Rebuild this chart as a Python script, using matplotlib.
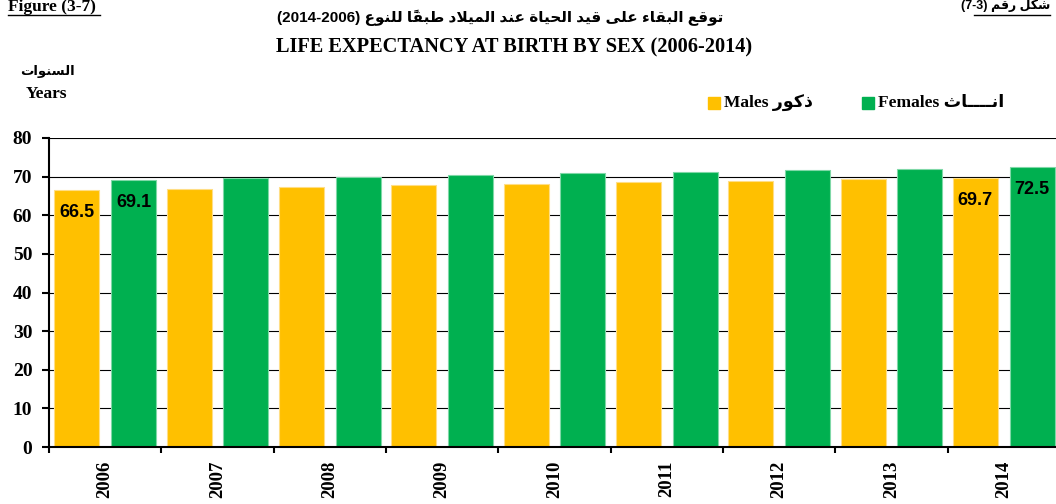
import numpy as np
import matplotlib
matplotlib.use('Agg')
import matplotlib.pyplot as plt
from matplotlib.patches import Rectangle
from matplotlib.lines import Line2D

years = ['2006', '2007', '2008', '2009', '2010', '2011', '2012', '2013', '2014']
males = [66.5, 66.9, 67.4, 67.9, 68.2, 68.6, 68.9, 69.4, 69.7]
females = [69.1, 69.6, 70.0, 70.5, 70.9, 71.3, 71.7, 72.0, 72.5]
labelled = ['2006', '2014']   # only these years carry value labels

title_ar = 'توقع البقاء على قيد الحياة عند الميلاد طبقاً للنوع'
title_ar_years = '(2014-2006)'
title_en = 'LIFE EXPECTANCY AT BIRTH BY SEX (2006-2014)'
fig_en = 'Figure (3-7)'
fig_ar = 'شكل رقم'
fig_ar_num = '(7-3)'
unit_ar = 'السنوات'
unit_en = 'Years'
males_name = ['Males', 'ذكور']
females_name = ['Females', 'انــــاث']

yellow = '#FFC000'
green = '#00B050'

# arabic letters: isolated, final, initial, medial (None = no join to the next letter)
FORMS = {
    'ا': (0xFE8D, 0xFE8E, None, None),
    'ب': (0xFE8F, 0xFE90, 0xFE91, 0xFE92),
    'ة': (0xFE93, 0xFE94, None, None),
    'ت': (0xFE95, 0xFE96, 0xFE97, 0xFE98),
    'ث': (0xFE99, 0xFE9A, 0xFE9B, 0xFE9C),
    'ح': (0xFEA1, 0xFEA2, 0xFEA3, 0xFEA4),
    'د': (0xFEA9, 0xFEAA, None, None),
    'ذ': (0xFEAB, 0xFEAC, None, None),
    'ر': (0xFEAD, 0xFEAE, None, None),
    'س': (0xFEB1, 0xFEB2, 0xFEB3, 0xFEB4),
    'ش': (0xFEB5, 0xFEB6, 0xFEB7, 0xFEB8),
    'ط': (0xFEC1, 0xFEC2, 0xFEC3, 0xFEC4),
    'ع': (0xFEC9, 0xFECA, 0xFECB, 0xFECC),
    'ق': (0xFED5, 0xFED6, 0xFED7, 0xFED8),
    'ك': (0xFED9, 0xFEDA, 0xFEDB, 0xFEDC),
    'ل': (0xFEDD, 0xFEDE, 0xFEDF, 0xFEE0),
    'م': (0xFEE1, 0xFEE2, 0xFEE3, 0xFEE4),
    'ن': (0xFEE5, 0xFEE6, 0xFEE7, 0xFEE8),
    'و': (0xFEED, 0xFEEE, None, None),
    'ى': (0xFEEF, 0xFEF0, None, None),
    'ي': (0xFEF1, 0xFEF2, 0xFEF3, 0xFEF4),
    'ء': (0xFE80, None, None, None),
    'ـ': (0x0640, 0x0640, 0x0640, 0x0640),
    '\uFEFB': (0xFEFB, 0xFEFC, None, None),   # lam-alef
}
MARKS = '\u064B'


def shape(text):
    text = text.replace('لا', '\uFEFB')
    out = []
    for i, c in enumerate(text):
        if c not in FORMS:
            out.append(c)
            continue
        j = i - 1
        while j >= 0 and text[j] in MARKS:
            j -= 1
        k = i + 1
        while k < len(text) and text[k] in MARKS:
            k += 1
        prev = FORMS.get(text[j]) if j >= 0 else None
        nxt = FORMS.get(text[k]) if k < len(text) else None
        f = FORMS[c]
        a = prev is not None and prev[2] is not None and f[1] is not None
        b = f[2] is not None and nxt is not None and nxt[1] is not None
        if a and b:
            code = f[3]
        elif a:
            code = f[1]
        elif b:
            code = f[2]
        else:
            code = f[0]
        out.append(chr(code))
    return out


def rtl(text):
    # shape then put in visual (left to right) order, marks stay after their letter
    clusters = []
    for g in shape(text):
        if g in MARKS and clusters:
            clusters[-1] += g
        else:
            clusters.append(g)
    return ''.join(clusters[::-1])


serif = ['Liberation Serif', 'DejaVu Serif', 'DejaVu Sans']
sans = ['Liberation Sans', 'DejaVu Sans']

fig = plt.figure(figsize=(10.56, 5.04), dpi=100)
ax = fig.add_axes([49 / 1056, 57 / 504, 1011 / 1056, 309 / 504])

x = np.arange(len(years))
w = 0.40
off = 0.253
ax.bar(x - off, males, w, color=yellow, edgecolor='#FFDE85', linewidth=0.8, zorder=2)
ax.bar(x + off, females, w, color=green, edgecolor='#7FD8A7', linewidth=0.8, zorder=2)

for i, yr in enumerate(years):
    if yr in labelled:
        ax.annotate(f'{males[i]:.1f}', (x[i] - off, males[i]), xytext=(0, -16),
                    textcoords='offset points', ha='center', va='center',
                    fontsize=13, fontweight='bold', family=sans, zorder=3)
        ax.annotate(f'{females[i]:.1f}', (x[i] + off, females[i]), xytext=(0, -16),
                    textcoords='offset points', ha='center', va='center',
                    fontsize=13, fontweight='bold', family=sans, zorder=3)

ax.set_xlim(-0.5, len(years) - 0.5)
ax.set_ylim(0, 80)
ax.set_yticks(range(0, 81, 10))
ax.yaxis.grid(True, color='black', linewidth=0.8, zorder=0)
ax.set_axisbelow(True)

ax.set_xticks(x)
ax.set_xticklabels(years, rotation=90, fontsize=13.5, fontweight='bold', family=serif)
ax.set_xticks(np.arange(-0.5, len(years)), minor=True)
ax.tick_params(axis='x', which='major', length=0, pad=10)
ax.tick_params(axis='x', which='minor', length=4, width=1.5, direction='out')
ax.tick_params(axis='y', length=5, width=1.5, pad=7)
for lab in ax.get_yticklabels():
    lab.set_fontsize(14)
    lab.set_fontweight('bold')
    lab.set_family(serif)

for s in ['top', 'right']:
    ax.spines[s].set_visible(False)
ax.spines['left'].set_linewidth(1.5)
ax.spines['bottom'].set_linewidth(1.5)

# titles
fig.text(500 / 1056, 1 - 18 / 504, title_ar_years + ' ' + rtl(title_ar), ha='center', va='center',
         fontsize=11, fontweight='bold', family=sans)
fig.text(514 / 1056, 1 - 47 / 504, title_en, ha='center', va='center',
         fontsize=14.7, fontweight='bold', family=serif)

fig.text(8 / 1056, 1 - 7 / 504, fig_en, ha='left', va='center',
         fontsize=12.5, fontweight='bold', family=serif)
fig.add_artist(Line2D([8 / 1056, 100 / 1056], [1 - 15 / 504] * 2, color='black', lw=1))
fig.text(1050 / 1056, 1 - 6 / 504, fig_ar_num + ' ' + rtl(fig_ar), ha='right', va='center',
         fontsize=9, fontweight='bold', family=sans)
fig.add_artist(Line2D([974 / 1056, 1050 / 1056], [1 - 15 / 504] * 2, color='black', lw=1))

# unit label
fig.text(47 / 1056, 1 - 72 / 504, rtl(unit_ar), ha='center', va='center',
         fontsize=9.5, fontweight='bold', family=sans)
fig.text(47 / 1056, 1 - 94 / 504, unit_en, ha='center', va='center',
         fontsize=12.5, fontweight='bold', family=serif)

# legend
for sx, col, name in [(708, yellow, males_name), (862, green, females_name)]:
    fig.add_artist(Rectangle((sx / 1056, 1 - 109 / 504), 12 / 1056, 12 / 504,
                             color=col, transform=fig.transFigure))
    fig.text((sx + 16) / 1056, 1 - 103 / 504, name[0] + ' ' + rtl(name[1]), ha='left', va='center',
             fontsize=12.5, fontweight='bold', family=serif)

fig.savefig('out.png', dpi=100)
